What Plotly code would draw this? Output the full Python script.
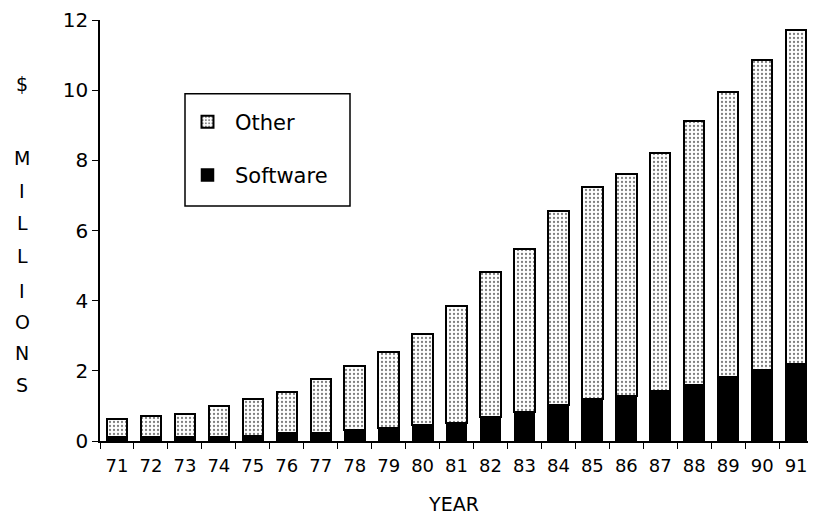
import plotly.graph_objects as go

years = ["71","72","73","74","75","76","77","78","79","80","81","82","83","84","85","86","87","88","89","90","91"]
total = [0.62,0.70,0.78,1.00,1.20,1.41,1.78,2.15,2.54,3.05,3.84,4.83,5.48,6.55,7.23,7.60,8.20,9.12,9.95,10.85,11.72]
software = [0.11,0.10,0.10,0.12,0.15,0.22,0.23,0.30,0.36,0.45,0.50,0.67,0.82,1.04,1.21,1.28,1.42,1.60,1.83,2.03,2.20]
other = [round(t - s, 2) for t, s in zip(total, software)]
ylabel_letters = ["$", "M", "I", "L", "L", "I", "O", "N", "S"]
ylabel_px = [82, 157, 190, 222, 255, 290, 321, 353, 385]

FONT = "DejaVu Sans"
PW, PH = 708, 423  # plot area size in px


def px_x(sx):
    return (sx - 100) / PW


def px_y(sy):
    return (441 - sy) / PH


fig = go.Figure()
fig.add_trace(go.Bar(
    x=years, y=software, name="Software", width=0.6,
    marker=dict(color="black", line=dict(color="black", width=1.5)),
    legendgroup="s", legendrank=2,
))
fig.add_trace(go.Bar(
    x=years, y=other, name="Other", width=0.6,
    marker=dict(color="white", line=dict(color="black", width=2),
                pattern=dict(shape=".", fgcolor="black", bgcolor="white", size=4, solidity=0.25)),
    legendgroup="o", legendrank=1,
))

# page body has an 8px margin, so figure is sized/offset to compensate
fig.update_layout(
    barmode="stack",
    width=800, height=507,
    margin=dict(l=92, r=0, t=10, b=74),
    paper_bgcolor="white", plot_bgcolor="white",
    font=dict(family=FONT, size=20, color="black"),
    showlegend=True,
    legend=dict(x=px_x(180), y=px_y(100), xanchor="left", yanchor="top",
                bgcolor="rgba(0,0,0,0)", borderwidth=0,
                font=dict(size=21, family=FONT),
                traceorder="grouped", tracegroupgap=23,
                itemwidth=45),
    xaxis=dict(type="category", range=[-0.5, 20.35], showline=True, linecolor="black", linewidth=1.5,
               ticks="outside", ticklen=6, tickcolor="black", tickson="boundaries",
               showgrid=False, tickfont=dict(size=18), ticklabelstandoff=8,
               title=dict(text="YEAR", font=dict(size=19), standoff=22)),
    yaxis=dict(range=[0, 12], tickvals=[0,2,4,6,8,10,12], showline=True, linecolor="black", linewidth=1.5,
               ticks="outside", ticklen=6, tickcolor="black", showgrid=False, zeroline=False,
               tickfont=dict(size=20), ticklabeloverflow="allow"),
)

fig.add_shape(type="rect", xref="paper", yref="paper",
              x0=px_x(185), x1=px_x(350), y0=px_y(205), y1=px_y(92),
              line=dict(color="black", width=1.5), fillcolor="rgba(0,0,0,0)", layer="above")

for ch, py in zip(ylabel_letters, ylabel_px):
    fig.add_annotation(x=px_x(22), y=px_y(py), xref="paper", yref="paper", text=ch,
                       showarrow=False, font=dict(size=19), xanchor="center", yanchor="middle")

fig.write_html("out.html")
